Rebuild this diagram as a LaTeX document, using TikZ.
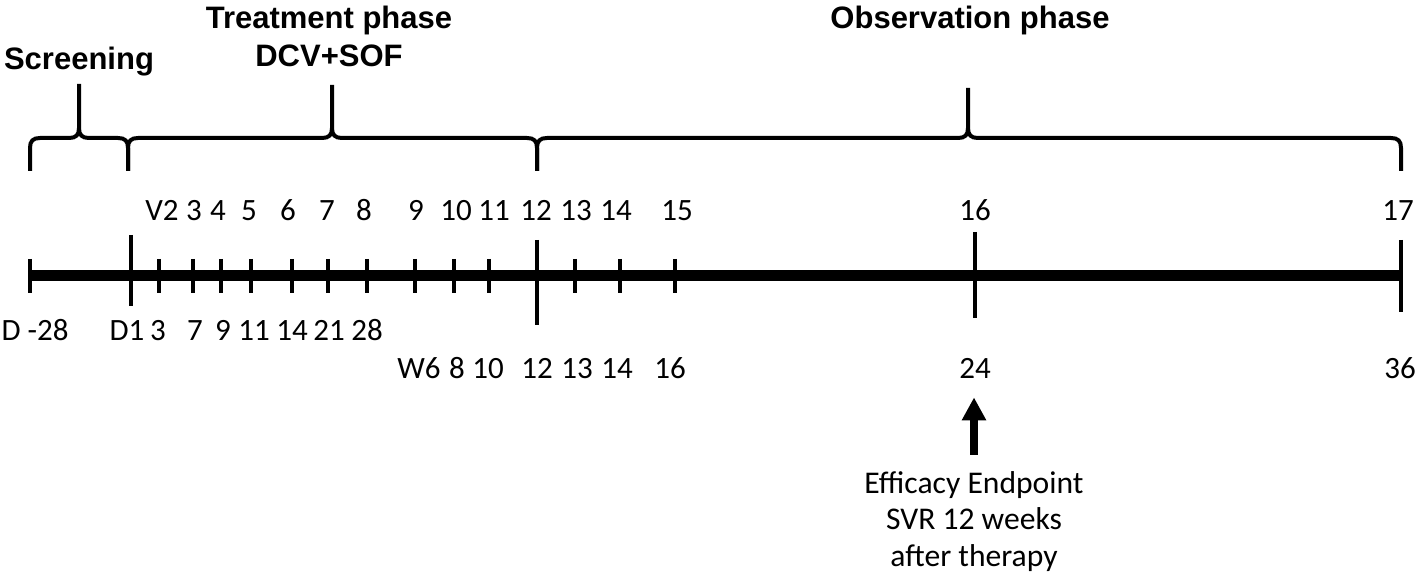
\documentclass[tikz,border=0pt]{standalone}
\usepackage{fontspec}
\setmainfont{Carlito}
\newfontfamily\headfont{Liberation Sans}
\usetikzlibrary{arrows.meta}
\tikzset{
  heading/.style={font=\headfont\bfseries\fontsize{15.5}{18}\selectfont,anchor=base,inner sep=0pt},
  numlabel/.style={font=\fontsize{15.5}{18}\selectfont,anchor=base,inner sep=1pt},
  endtext/.style={font=\fontsize{15.8}{18.25}\selectfont,align=center,anchor=north,inner sep=0pt},
  axisline/.style={line width=5.5pt},
  tickline/.style={line width=2pt},
  phasebrace/.style={line width=2pt},
  endarrow/.style={-{Triangle[length=11.5pt,width=11.5pt]},line width=4pt}
}
\begin{document}
\begin{tikzpicture}[x=0.5pt,y=-0.5pt]
\path[use as bounding box] (0,0) rectangle (1418,576);
\node[heading] (screen) at (79,70) {Screening};
\node[heading] (treat) at (329,29) {Treatment phase};
\node[heading] (drug) at (329,67) {DCV+SOF};
\node[heading] (obs) at (970,29) {Observation phase};

\foreach \a/\m/\b/\t in {30/79/128/84,128/332/537/85,537/968/1401/88}{
\draw[phasebrace] (\a,171) -- (\a,148) .. controls (\a,141) and (\a+3,138) .. (\a+10,138) -- (\m-10,138) .. controls (\m-3,138) and (\m,135) .. (\m,128) -- (\m,\t) -- (\m,128) .. controls (\m,135) and (\m+3,138) .. (\m+10,138) -- (\b-10,138) .. controls (\b-3,138) and (\b,141) .. (\b,148) -- (\b,171);
}

\coordinate (start) at (30,276);
\coordinate (stop) at (1401,276);
\draw[axisline] (start) -- (stop);
\foreach \x in {30,159,193,221,251,292,328,367,415,454,489,575,620,675}
  \draw[tickline] (\x,259) -- (\x,293);
\foreach \x/\u/\l in {131/235/306,537/240/325,975/232/318,1401/240/312}
  \draw[tickline] (\x,\u) -- (\x,\l);

\foreach \x/\t [count=\i] in {162/V2,194/3,218/4,249/5,288/6,327/7,364/8,416/9,456/10,494/11,536/12,576/13,616/14,677/15,975/16,1398/17}
  \node[numlabel] (visit\i) at (\x,221) {\t};
\foreach \x/\t [count=\i] in {35/D -28,127/D1,158/3,195/7,223/9,254/11,292/14,329/21,367/28}
  \node[numlabel] (day\i) at (\x,341) {\t};
\foreach \x/\t [count=\i] in {419/W6,457/8,488/10,537/12,577/13,617/14,670/16,975/24,1400/36}
  \node[numlabel] (week\i) at (\x,379) {\t};

\node[endtext] (endpt) at (974,471) {Efficacy Endpoint\\SVR 12 weeks\\after therapy};
\draw[endarrow,shorten <=8pt,shorten >=8pt] (endpt.north) -- (endpt.north |- week8.south);
\end{tikzpicture}
\end{document}
